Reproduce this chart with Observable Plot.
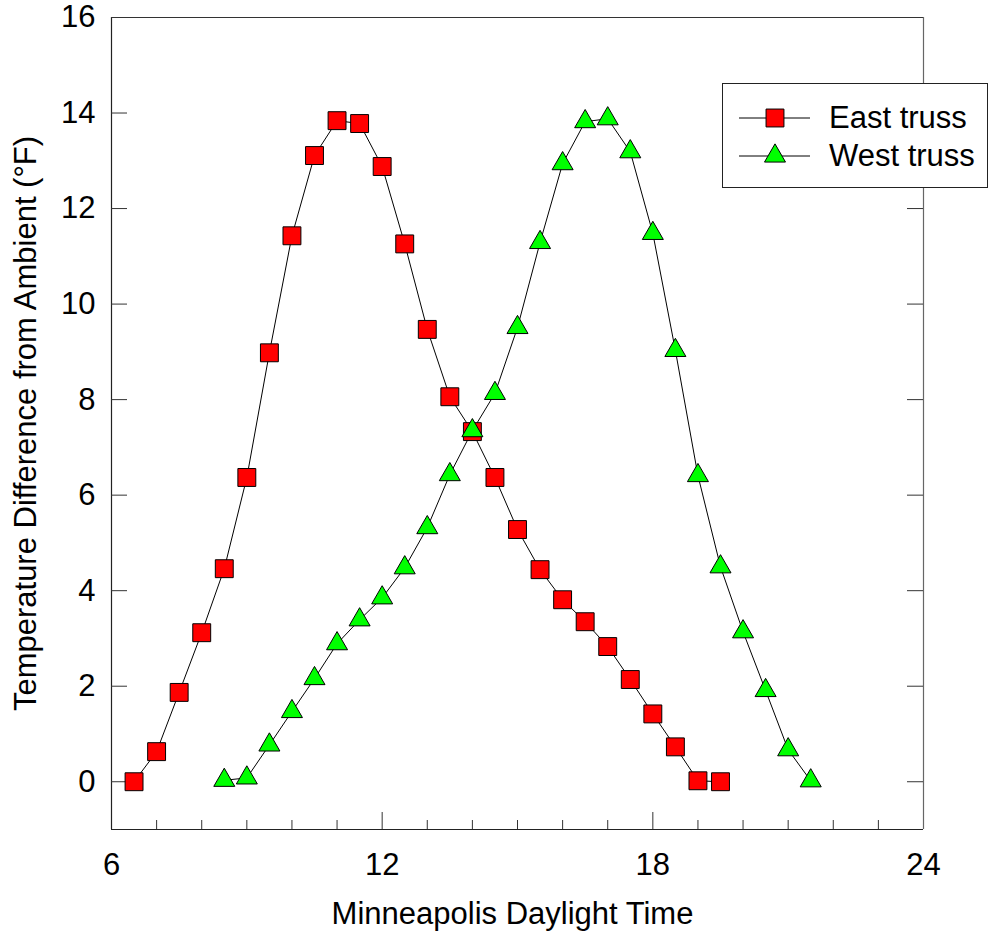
<!DOCTYPE html>
<html>
<head>
<meta charset="utf-8">
<script src="https://cdn.jsdelivr.net/npm/d3@7"></script>
<script src="https://cdn.jsdelivr.net/npm/@observablehq/plot@0.6"></script>
<style>
  html, body { margin: 0; padding: 0; background: #fff; }
  #wrap { position: relative; width: 989px; height: 936px; font-family: "Liberation Sans", Arial, sans-serif; }
  #legend { position: absolute; left: 722px; top: 83px; width: 266px; height: 105px; border: 1px solid #222; background: #fff; box-sizing: border-box; }
  #legend svg { position: absolute; left: 0; top: 0; }
  #legend .lab { position: absolute; left: 106px; font-size: 31px; line-height: 31px; color: #000; white-space: nowrap; }
</style>
</head>
<body>
<div id="wrap"></div>
<script>
// ---- data ----
const eastHours = [6.5, 7, 7.5, 8, 8.5, 9, 9.5, 10, 10.5, 11, 11.5, 12, 12.5, 13, 13.5, 14, 14.5, 15, 15.5, 16, 16.5, 17, 17.5, 18, 18.5, 19, 19.5];
const eastTemp  = [0, 0.63, 1.87, 3.12, 4.46, 6.37, 8.98, 11.43, 13.11, 13.84, 13.78, 12.88, 11.26, 9.47, 8.06, 7.33, 6.37, 5.28, 4.44, 3.81, 3.35, 2.83, 2.14, 1.42, 0.73, 0.02, 0];
const westHours = [8.5, 9, 9.5, 10, 10.5, 11, 11.5, 12, 12.5, 13, 13.5, 14, 14.5, 15, 15.5, 16, 16.5, 17, 17.5, 18, 18.5, 19, 19.5, 20, 20.5, 21, 21.5];
const westTemp  = [0.03, 0.08, 0.77, 1.47, 2.16, 2.89, 3.39, 3.85, 4.48, 5.32, 6.43, 7.35, 8.13, 9.51, 11.29, 12.94, 13.82, 13.88, 13.19, 11.48, 9.03, 6.41, 4.50, 3.14, 1.91, 0.67, 0.02];
const seriesNames = ["East truss", "West truss"];
const xTickLabels = [6, 12, 18, 24];
const xMinorTicks = [7, 8, 9, 10, 11, 13, 14, 15, 16, 17, 19, 20, 21, 22, 23];
const xMajorTicks = [12, 18];
const yTickLabels = [0, 2, 4, 6, 8, 10, 12, 14, 16];
const yInnerTicks = [0, 2, 4, 6, 8, 10, 12, 14];
const xTitle = "Minneapolis Daylight Time";
const yTitle = "Temperature Difference from Ambient (°F)";

const east = eastHours.map((h, i) => ({hour: h, temp: eastTemp[i]}));
const west = westHours.map((h, i) => ({hour: h, temp: westTemp[i]}));

const W = 989, H = 936;
const mL = 111, mR = 66, mT = 17, mB = 107;
const innerW = W - mL - mR, innerH = H - mT - mB;
const font = "'Liberation Sans', Arial, sans-serif";
const FS = 31;

const chart = Plot.plot({
  width: W, height: H,
  marginLeft: mL, marginRight: mR, marginTop: mT, marginBottom: mB,
  style: {fontFamily: font, background: "#fff", color: "#000"},
  x: {domain: [6, 24], axis: null},
  y: {domain: [-1, 16], axis: null},
  marks: [
    // frame
    Plot.ruleX([6], {stroke: "#222", strokeWidth: 1.2}),
    Plot.ruleX([24], {stroke: "#666", strokeWidth: 1.2}),
    Plot.ruleY([16], {stroke: "#333", strokeWidth: 1.2}),
    Plot.ruleY([-1], {stroke: "#222", strokeWidth: 1.2}),
    // inward ticks
    Plot.tickX(xMinorTicks, {x: d => d, insetTop: innerH - 9, stroke: "#333"}),
    Plot.tickX(xMajorTicks, {x: d => d, insetTop: innerH - 17, stroke: "#333"}),
    Plot.tickY(yInnerTicks, {y: d => d, insetRight: innerW - 16, stroke: "#333"}),
    Plot.tickY(yInnerTicks, {y: d => d, insetLeft: innerW - 16, stroke: "#333"}),
    // tick labels
    Plot.axisX({ticks: xTickLabels, tickSize: 0, tickPadding: 23, fontSize: FS, tickFormat: d => String(d), label: null}),
    Plot.axisY({ticks: yTickLabels, tickSize: 0, tickPadding: 16, fontSize: FS, tickFormat: d => String(d), label: null}),
    // titles
    Plot.text([xTitle], {text: d => d, frameAnchor: "bottom", textAnchor: "middle", dy: 94, dx: -5, fontSize: FS, fill: "#000"}),
    Plot.text([yTitle], {text: d => d, frameAnchor: "left", textAnchor: "middle", rotate: -90, dx: -85, dy: 0, fontSize: FS, fill: "#000"}),
    // lines
    Plot.line(east, {x: "hour", y: "temp", stroke: "#000", strokeWidth: 1}),
    Plot.line(west, {x: "hour", y: "temp", stroke: "#000", strokeWidth: 1}),
    // markers
    Plot.dot(east, {x: "hour", y: "temp", symbol: "square", r: 10.1, fill: "#ff0000", stroke: "#000", strokeWidth: 1}),
    Plot.dot(west, {x: "hour", y: "temp", symbol: "triangle", r: 7.8, fill: "#00ff00", stroke: "#000", strokeWidth: 1})
  ]
});

const wrap = document.getElementById("wrap");
wrap.appendChild(chart);

// legend (overlay, extends beyond plot frame like the reference)
const legend = document.createElement("div");
legend.id = "legend";
wrap.appendChild(legend);
const lsvg = d3.select(legend).append("svg").attr("width", 266).attr("height", 105);
const rows = [
  {name: seriesNames[0], y: 34, sym: d3.symbolSquare, size: Math.PI * 10.1 * 10.1, fill: "#ff0000"},
  {name: seriesNames[1], y: 72, sym: d3.symbolTriangle, size: Math.PI * 7.8 * 7.8, fill: "#00ff00"}
];
rows.forEach(r => {
  lsvg.append("line").attr("x1", 16).attr("x2", 87).attr("y1", r.y).attr("y2", r.y).attr("stroke", "#000").attr("stroke-width", 1);
  lsvg.append("path").attr("d", d3.symbol(r.sym, r.size)()).attr("transform", `translate(52,${r.y})`)
    .attr("fill", r.fill).attr("stroke", "#000").attr("stroke-width", 1);
  const lab = document.createElement("div");
  lab.className = "lab";
  lab.textContent = r.name;
  lab.style.top = (r.y - 16) + "px";
  legend.appendChild(lab);
});
</script>
</body>
</html>
